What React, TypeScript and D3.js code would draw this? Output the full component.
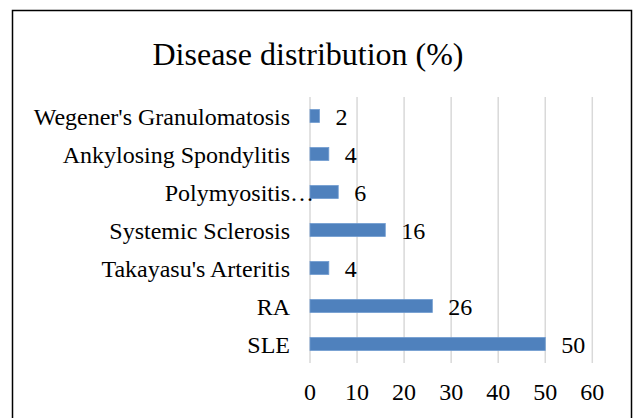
import React from "react";
import * as d3 from "d3";

const categories = [
  "Wegener's Granulomatosis",
  "Ankylosing Spondylitis",
  "Polymyositis…",
  "Systemic Sclerosis",
  "Takayasu's Arteritis",
  "RA",
  "SLE",
];
const values = [2, 4, 6, 16, 4, 26, 50];
const xTicks = [0, 10, 20, 30, 40, 50, 60];
const title = "Disease distribution (%)";

export default function App() {
  const W = 633;
  const H = 418;
  const x = d3.scaleLinear().domain([0, 60]).range([310, 592.3]);
  const y = d3.scaleBand<string>().domain(categories).range([97, 363]).paddingInner(0.66).paddingOuter(0.33);
  const font = "'Liberation Serif', 'Times New Roman', serif";
  return (
    <svg width={W} height={H} style={{ position: "absolute", left: 0, top: 0 }} fontFamily={font}>
      <rect x={0} y={0} width={W} height={H} fill="#fff" />
      <rect x={12.5} y={10.5} width={619} height={420} fill="#fff" stroke="#000" strokeWidth={1.5} />
      <text x={308} y={65} textAnchor="middle" fontSize={32} fill="#000">{title}</text>
      {xTicks.map((t) => (
        <g key={t}>
          <line x1={x(t)} x2={x(t)} y1={97} y2={363} stroke="#d9d9d9" strokeWidth={1.5} />
          <text x={x(t)} y={399.5} textAnchor="middle" fontSize={24} fill="#000">{t}</text>
        </g>
      ))}
      {categories.map((c, i) => {
        const cy = y(c)! + y.bandwidth() / 2;
        const trunc = c.endsWith("…");
        return (
          <g key={c}>
            <rect x={x(0)} y={y(c)!} width={x(values[i]) - x(0)} height={y.bandwidth()} fill="#4f81bd" stroke="#6f9bd0" strokeWidth={0.8} />
            <text x={290} y={cy + 8.5} textAnchor="end" fontSize={24} fill="#000">{trunc ? c.slice(0, -1) : c}</text>
            {trunc && <text x={290} y={cy + 8.5} textAnchor="start" fontSize={24} fill="#000">…</text>}
            <text x={x(values[i]) + 16} y={cy + 9} textAnchor="start" fontSize={24} fill="#000">{values[i]}</text>
          </g>
        );
      })}
    </svg>
  );
}
